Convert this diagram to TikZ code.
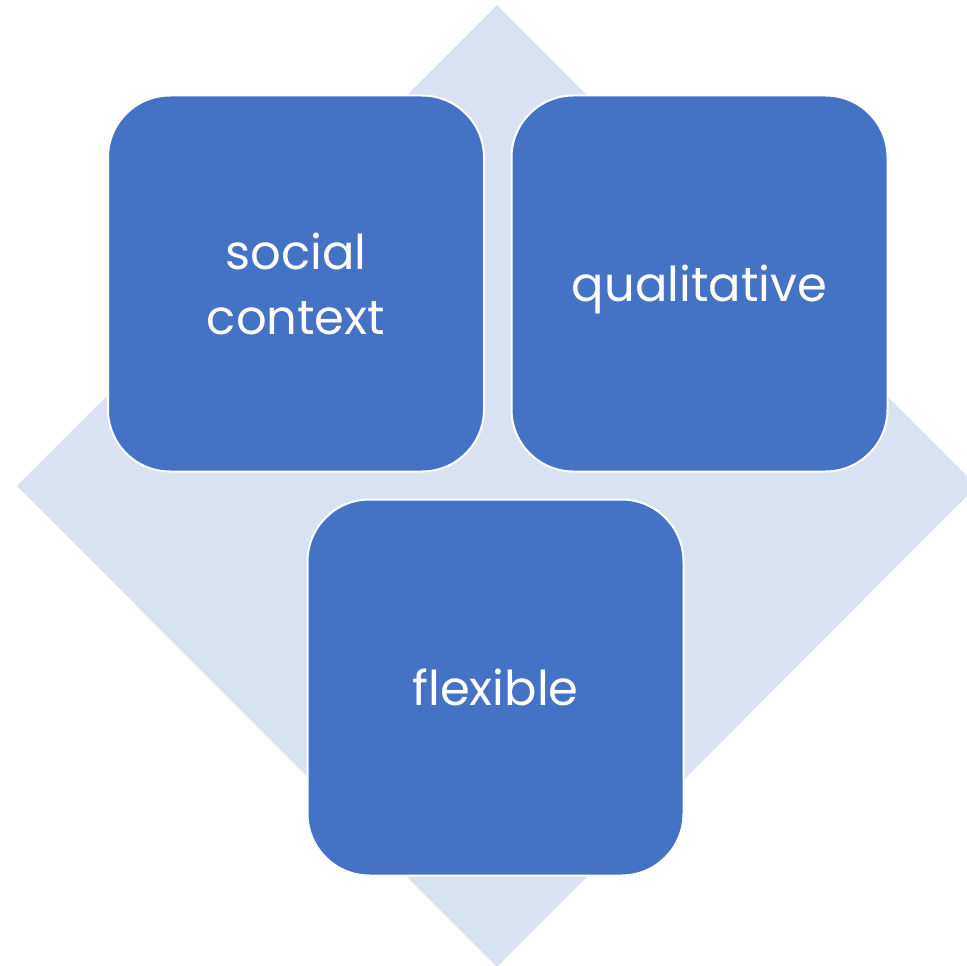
\documentclass[tikz,border=0pt]{standalone}
\usepackage{fontspec}
\setmainfont{Poppins}
\definecolor{boxblue}{HTML}{4472C4}
\definecolor{diamondblue}{HTML}{D9E2F3}
\begin{document}
\begin{tikzpicture}[x=1pt,y=-1pt,
  tilefont/.style={text=white,font=\fontsize{48}{65}\selectfont,align=center},
  tile/.style={draw=white,line width=2pt,fill=boxblue,rounded corners=62pt,
    minimum width=376pt,minimum height=376pt,inner sep=0pt,tilefont}]
\useasboundingbox (0,0) rectangle (967,966);
\begin{scope}
\clip (0,0) rectangle (967,966);
\fill[diamondblue] (497,5) -- (977,486) -- (497,967) -- (17,486) -- cycle;
\end{scope}
\node[tile] (social) at (296,283.5) {social\\context};
\node[tile,label={[tilefont,yshift=-6pt]center:qualitative}] (qual) at (699.5,283.5) {};
\node[tile] (flex) at (495.5,687.5) {flexible};
\end{tikzpicture}
\end{document}
